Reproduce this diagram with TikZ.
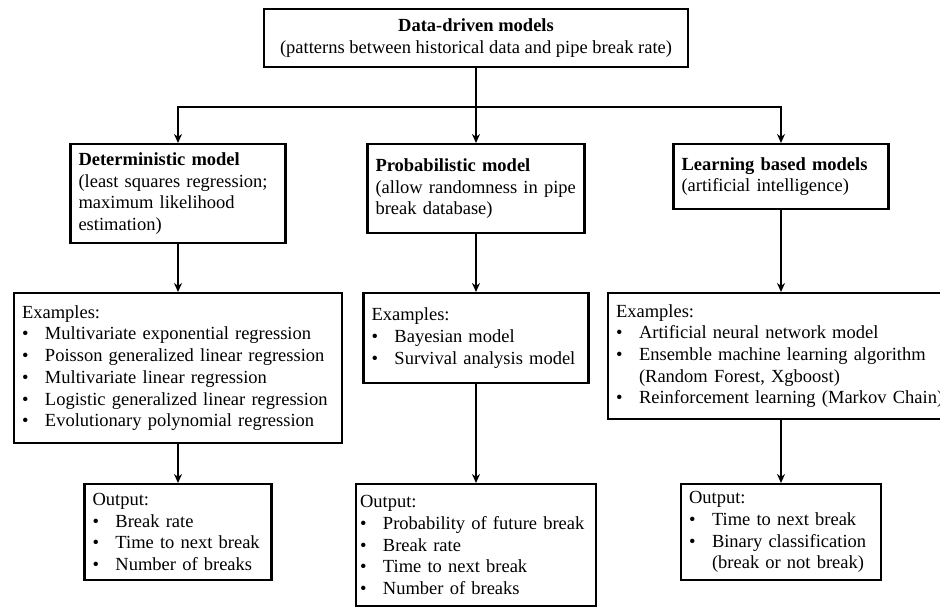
\documentclass[tikz,border=0pt]{standalone}
\usepackage{fontspec}
\setmainfont{Liberation Serif}
\usetikzlibrary{
  positioning,
  arrows.meta
}
\tikzset{
  >={Stealth[length=9pt, width=8pt]},
  box/.style={draw, line width=2.2pt, anchor=north, inner xsep=8pt, inner ysep=3pt, align=left},
  link/.style={->, line width=1.8pt}
}
\newcommand{\bul}{\makebox[23pt][l]{\textbullet}}
\newcommand{\ind}{\hspace*{23pt}}

\begin{document}
\begin{tikzpicture}[x=1pt, y=-1pt, font=\fontsize{18.5}{21.7}\selectfont]
    \useasboundingbox (0,0) rectangle (940,606);
    \node[box, align=center, minimum width=424pt, minimum height=58pt] (data) at (476,8)
      {\textbf{Data-driven models}\\(patterns between historical data and pipe break rate)};
    % model types
    \node[box, text width=199pt, minimum height=99pt] (det) at (178,143)
      {\textbf{Deterministic model}\\(least squares regression;\\maximum likelihood\\estimation)};
    \node[box, text width=201pt, minimum height=89pt] (prob) at (476,143)
      {\textbf{Probabilistic model}\\(allow randomness in pipe\\break database)};
    \node[box, text width=199pt, minimum height=65pt] (learn) at (781,143)
      {\textbf{Learning based models}\\(artificial intelligence)};
    % examples
    \node[box, text width=312pt, minimum height=150pt] (exdet) at (178,292)
      {Examples:\\\bul Multivariate exponential regression\\\bul Poisson generalized linear regression\\\bul Multivariate linear regression\\\bul Logistic generalized linear regression\\\bul Evolutionary polynomial regression};
    \node[box, text width=209pt, minimum height=90pt] (exprob) at (476,292)
      {Examples:\\\bul Bayesian model\\\bul Survival analysis model};
    \node[box, text width=330pt, minimum height=126pt] (exlearn) at (781,292)
      {Examples:\\\bul Artificial neural network model\\\bul Ensemble machine learning algorithm\\\ind (Random Forest, Xgboost)\\\bul Reinforcement learning (Markov Chain)};
    % outputs
    \node[box, text width=171pt, minimum height=96pt] (outdet) at (178,483)
      {Output:\\\bul Break rate\\\bul Time to next break\\\bul Number of breaks};
    \node[box, text width=232pt, inner xsep=4pt, minimum height=122pt] (outprob) at (476,483)
      {Output:\\\bul Probability of future break\\\bul Break rate\\\bul Time to next break\\\bul Number of breaks};
    \node[box, text width=184pt, minimum height=96pt] (outlearn) at (781,483)
      {Output:\\\bul Time to next break\\\bul Binary classification\\\ind (break or not break)};
    \draw[link] (data.south) -- (prob.north);
    \draw[link] (data.south) -- ++(0,39) -| (det.north);
    \draw[link] (data.south) -- ++(0,39) -| (learn.north);
    \draw[link] (det.south) -- (exdet.north);
    \draw[link] (prob.south) -- (exprob.north);
    \draw[link] (learn.south) -- (exlearn.north);
    \draw[link] (exdet.south) -- (outdet.north);
    \draw[link] (exprob.south) -- (outprob.north);
    \draw[link] (exlearn.south) -- (outlearn.north);
\end{tikzpicture}
\end{document}
